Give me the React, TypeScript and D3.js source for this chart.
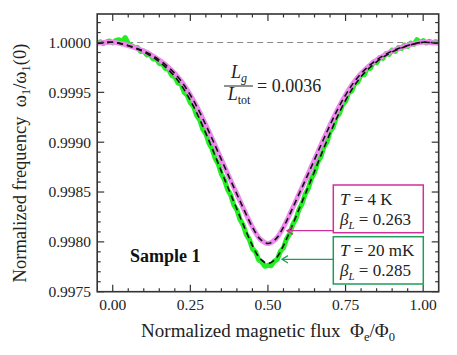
import React from "react";
import * as d3 from "d3";

// measured data (T = 20 mK), flux from -0.05 in steps of 0.01
const dataStart = -0.05;
const dataStep = 0.01;
const data20mK = [
  0.999995, 1.000008, 0.99999, 1.000006, 1.000015, 0.999996, 1.00002, 1.000028, 1.00001, 1.00005,
  0.99999, 0.99997, 0.999952, 0.99995, 0.99991, 0.999915, 0.999875, 0.999882, 0.999835, 0.99984,
  0.99979, 0.999785, 0.999738, 0.99973, 0.99967, 0.999655, 0.999595, 0.99958, 0.999502, 0.99947,
  0.999395, 0.99936, 0.99927, 0.999225, 0.99913, 0.999085, 0.99899, 0.998935, 0.998835, 0.99878,
  0.99868, 0.998622, 0.998525, 0.99847, 0.99837, 0.99832, 0.998225, 0.99817, 0.998075, 0.998025,
  0.99793, 0.9979, 0.99782, 0.9978, 0.997755, 0.997765, 0.99776, 0.997805, 0.997825, 0.997905,
  0.99794, 0.99803, 0.99808, 0.998175, 0.99823, 0.998325, 0.998385, 0.99848, 0.998535, 0.998635,
  0.998695, 0.998795, 0.99885, 0.99895, 0.999, 0.999105, 0.99915, 0.99925, 0.999285, 0.999375,
  0.99941, 0.999495, 0.999515, 0.99959, 0.999605, 0.99968, 0.999675, 0.999745, 0.99974, 0.999805,
  0.999795, 0.99985, 0.99984, 0.99989, 0.99988, 0.999925, 0.99991, 0.99995, 0.99994, 0.999975,
  0.99996, 0.999995, 0.99998, 1.00003, 1.0, 1.00002, 0.999995, 1.000012, 0.999997, 1.000008,
  0.999998,
];

// fitted curves, flux from -0.05 in steps of 0.025
const fitStart = -0.05;
const fitStep = 0.025;
const fit4K = [
  0.999993, 1.0, 1.000002, 0.99999, 0.99997, 0.999945, 0.999915, 0.999874, 0.999824, 0.999764,
  0.999689, 0.999593, 0.999473, 0.999332, 0.999172, 0.999001, 0.998825, 0.99865, 0.998479, 0.998308,
  0.998148, 0.998027, 0.997984, 0.998027, 0.998148, 0.998308, 0.998479, 0.99865, 0.998825, 0.999001,
  0.999172, 0.999332, 0.999473, 0.999593, 0.999689, 0.999764, 0.999824, 0.999874, 0.999915, 0.999945,
  0.99997, 0.99999, 1.000002, 1.0, 0.999993,
];
const fit20mK = [
  0.999993, 1.0, 1.000002, 0.999989, 0.999967, 0.999939, 0.999906, 0.999861, 0.999806, 0.99974,
  0.999658, 0.999552, 0.99942, 0.999265, 0.999089, 0.998901, 0.998707, 0.998515, 0.998327, 0.998139,
  0.997963, 0.99783, 0.997783, 0.99783, 0.997963, 0.998139, 0.998327, 0.998515, 0.998707, 0.998901,
  0.999089, 0.999265, 0.99942, 0.999552, 0.999658, 0.99974, 0.999806, 0.999861, 0.999906, 0.999939,
  0.999967, 0.999989, 1.000002, 1.0, 0.999993,
];

const xTicks = [0, 0.25, 0.5, 0.75, 1.0];
const yTicks = [0.9975, 0.998, 0.9985, 0.999, 0.9995, 1.0];

const W = 457;
const H = 355;
const FONT = "Liberation Serif";
const GREEN = "#22ee22";
const PINK = "#ee88ee";
const MAGENTA = "#d0309a";
const DKGREEN = "#1f9c5c";

export default function App() {
  const x = d3.scaleLinear().domain([-0.05, 1.05]).range([97.2, 438.7]);
  const y = d3.scaleLinear().domain([0.9975, 1.000286]).range([291.7, 14]);
  const [x0, x1] = x.range();
  const [y0, y1] = y.range();

  const dataLine = d3
    .line<number>()
    .x((_, i) => x(dataStart + i * dataStep))
    .y((d) => y(d))
    .curve(d3.curveLinear);
  const fitLine = d3
    .line<number>()
    .x((_, i) => x(fitStart + i * fitStep))
    .y((d) => y(d))
    .curve(d3.curveCatmullRom);

  const xMinor = d3.range(0, 21).map((i) => i * 0.05).filter((v) => v <= 1.05);
  const yMinor = d3.range(0, 29).map((i) => 0.9975 + i * 0.0001).filter((v) => v <= 1.00028);
  const isMajorX = (v: number) => xTicks.some((t) => Math.abs(t - v) < 1e-6);
  const isMajorY = (v: number) => yTicks.some((t) => Math.abs(t - v) < 1e-8);

  const txt = { fontFamily: FONT };

  return (
    <svg
      width={W}
      height={H}
      style={{ position: "absolute", left: 0, top: 0, background: "#fff", fontFamily: FONT }}
    >
      <defs>
        <clipPath id="plot">
          <rect x={x0} y={y1} width={x1 - x0} height={y0 - y1} />
        </clipPath>
      </defs>

      {/* reference line at 1 */}
      <line x1={x0} x2={x1} y1={y(1)} y2={y(1)} stroke="#888" strokeWidth={1} strokeDasharray="6,4" />

      <g clipPath="url(#plot)">
        <path d={dataLine(data20mK) || ""} fill="none" stroke={GREEN} strokeWidth={5} strokeLinejoin="round" />
        <path d={fitLine(fit4K) || ""} fill="none" stroke={PINK} strokeWidth={5} />
        <path d={fitLine(fit20mK) || ""} fill="none" stroke="#111" strokeWidth={1.6} strokeDasharray="6,4" />
        <path d={fitLine(fit4K) || ""} fill="none" stroke="#111" strokeWidth={1.6} strokeDasharray="6,4" />
      </g>

      {/* ticks */}
      <g stroke="#333" strokeWidth={1.2}>
        {xMinor.map((v) => {
          const len = isMajorX(v) ? 7 : 3.5;
          return (
            <g key={"xt" + v}>
              <line x1={x(v)} x2={x(v)} y1={y0} y2={y0 - len} />
              <line x1={x(v)} x2={x(v)} y1={y1} y2={y1 + len} />
            </g>
          );
        })}
        {yMinor.map((v) => {
          const len = isMajorY(v) ? 7 : 3.5;
          return (
            <g key={"yt" + v}>
              <line x1={x0} x2={x0 + len} y1={y(v)} y2={y(v)} />
              <line x1={x1} x2={x1 - len} y1={y(v)} y2={y(v)} />
            </g>
          );
        })}
      </g>
      <rect x={x0} y={y1} width={x1 - x0} height={y0 - y1} fill="none" stroke="#333" strokeWidth={1.6} />

      {/* tick labels */}
      <g fontSize={15.5} fill="#222" style={txt}>
        {xTicks.map((t) => (
          <text key={"xl" + t} x={x(t)} y={310} textAnchor="middle" style={txt}>
            {d3.format(".2f")(t)}
          </text>
        ))}
        {yTicks.map((t) => (
          <text key={"yl" + t} x={91} y={y(t)} dy="0.35em" textAnchor="end" style={txt}>
            {d3.format(".4f")(t)}
          </text>
        ))}
      </g>

      {/* axis titles */}
      <text x={268} y={337} fontSize={19} textAnchor="middle" fill="#222" xmlSpace="preserve" style={txt}>
        {"Normalized magnetic flux  Φ"}
        <tspan fontSize={12.5} dy={4}>e</tspan>
        <tspan dy={-4}>/Φ</tspan>
        <tspan fontSize={12.5} dy={4}>0</tspan>
      </text>
      <text
        transform="translate(26,163) rotate(-90)"
        fontSize={18.5}
        textAnchor="middle"
        fill="#222"
        xmlSpace="preserve"
        style={txt}
      >
        {"Normalized frequency  ω"}
        <tspan fontSize={12.5} dy={4}>1</tspan>
        <tspan dy={-4}>/ω</tspan>
        <tspan fontSize={12.5} dy={4}>1</tspan>
        <tspan dy={-4}>(0)</tspan>
      </text>

      {/* ratio annotation */}
      <g fill="#222" fontSize={18} style={txt}>
        <text x={239} y={78} textAnchor="middle" style={txt}>
          <tspan fontStyle="italic">L</tspan>
          <tspan fontSize={12} fontStyle="italic" dy={4}>g</tspan>
        </text>
        <line x1={224} x2={253} y1={86} y2={86} stroke="#222" strokeWidth={1} />
        <text x={239} y={100} textAnchor="middle" style={txt}>
          <tspan fontStyle="italic">L</tspan>
          <tspan fontSize={12} dy={4}>tot</tspan>
        </text>
        <text x={257} y={92} style={txt}>= 0.0036</text>
      </g>

      <text x={130} y={262} fontSize={18} fontWeight="bold" fill="#111" style={txt}>
        Sample 1
      </text>

      {/* legend boxes */}
      <rect x={333.3} y={185} width={90} height={47.7} fill="#fff" stroke={MAGENTA} strokeWidth={1.5} />
      <rect x={333.3} y={236.7} width={90} height={47.3} fill="#fff" stroke={DKGREEN} strokeWidth={1.5} />
      <g fontSize={17} fill="#222" style={txt}>
        <text x={340} y={205} style={txt}>
          <tspan fontStyle="italic">T</tspan> = 4 K
        </text>
        <text x={340} y={225} style={txt}>
          <tspan fontStyle="italic">β</tspan>
          <tspan fontStyle="italic" fontSize={11} dy={4}>L</tspan>
          <tspan dy={-4}> = 0.263</tspan>
        </text>
        <text x={340} y={256} style={txt}>
          <tspan fontStyle="italic">T</tspan> = 20 mK
        </text>
        <text x={340} y={276} style={txt}>
          <tspan fontStyle="italic">β</tspan>
          <tspan fontStyle="italic" fontSize={11} dy={4}>L</tspan>
          <tspan dy={-4}> = 0.285</tspan>
        </text>
      </g>

      {/* arrows */}
      <g fill="none" strokeWidth={1.3}>
        <line x1={333.3} x2={287} y1={230.7} y2={230.7} stroke={MAGENTA} />
        <polyline points="293,227 287,230.7 293,234.4" stroke={MAGENTA} />
        <line x1={333.3} x2={282} y1={259.3} y2={259.3} stroke={DKGREEN} />
        <polyline points="288,255.6 282,259.3 288,263" stroke={DKGREEN} />
      </g>
    </svg>
  );
}
